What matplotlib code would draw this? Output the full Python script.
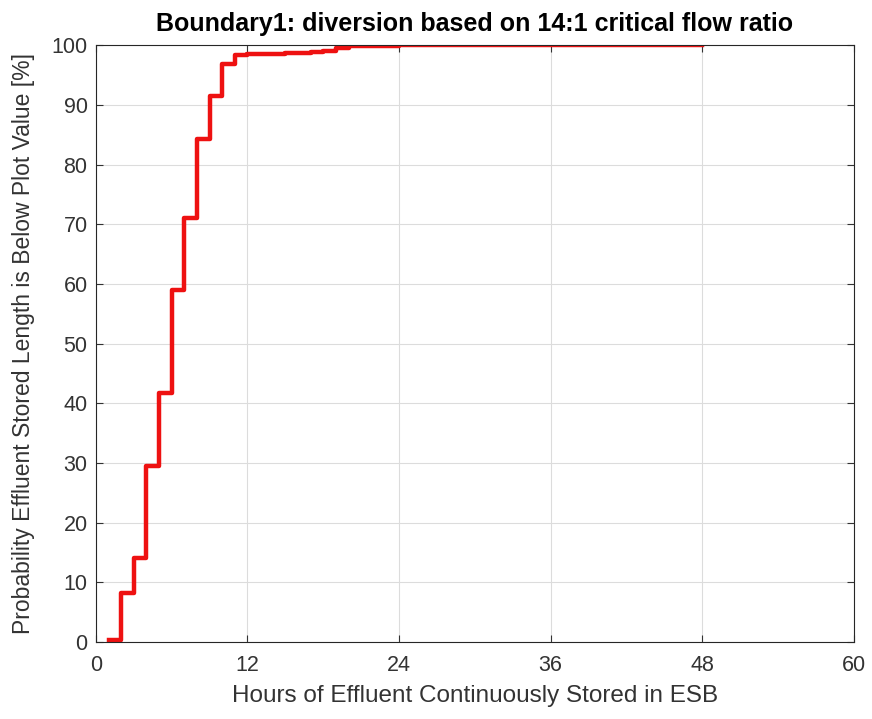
import matplotlib.pyplot as plt

# cumulative probability of continuous storage length
hours = [1, 2, 3, 4, 5, 6, 7, 8, 9, 10, 11, 12, 13, 14, 15, 16, 17, 18, 19, 20, 21, 22, 23, 24, 48]
prob = [0.3, 8.2, 14.1, 29.5, 41.8, 59.0, 71.0, 84.3, 91.5, 96.8, 98.3, 98.5, 98.6, 98.6, 98.7,
        98.7, 98.8, 99.1, 99.6, 99.8, 99.85, 99.9, 99.95, 100.0, 100.0]
xticks = [0, 12, 24, 36, 48, 60]
yticks = [0, 10, 20, 30, 40, 50, 60, 70, 80, 90, 100]

plt.rcParams['font.family'] = ['Liberation Sans', 'DejaVu Sans']
txt = '#333333'

fig = plt.figure(figsize=(8.72, 7.19), dpi=100)
ax = fig.add_axes([0.110, 0.107, 0.869, 0.830])
ax.plot(hours, prob, color='#ee1111', linewidth=3.2, drawstyle='steps-post')
ax.set_xlim(0, 60)
ax.set_ylim(0, 100)
ax.set_xticks(xticks)
ax.set_yticks(yticks)
ax.grid(True, color='#dcdcdc', linewidth=0.8)
ax.set_axisbelow(True)
ax.tick_params(direction='in', top=True, right=True, labelsize=15.5, colors=txt, length=5, pad=6)
ax.tick_params(axis='x', pad=9)
for s in ax.spines.values():
    s.set_color('#262626')
ax.set_xlabel('Hours of Effluent Continuously Stored in ESB', fontsize=17.5, color=txt, labelpad=7)
ax.set_ylabel('Probability Effluent Stored Length is Below Plot Value [%]', fontsize=16.5, color=txt, labelpad=12)
ax.set_title('Boundary1: diversion based on 14:1 critical flow ratio', fontsize=18, fontweight='bold', pad=10)

fig.savefig('out.png', dpi=100)
